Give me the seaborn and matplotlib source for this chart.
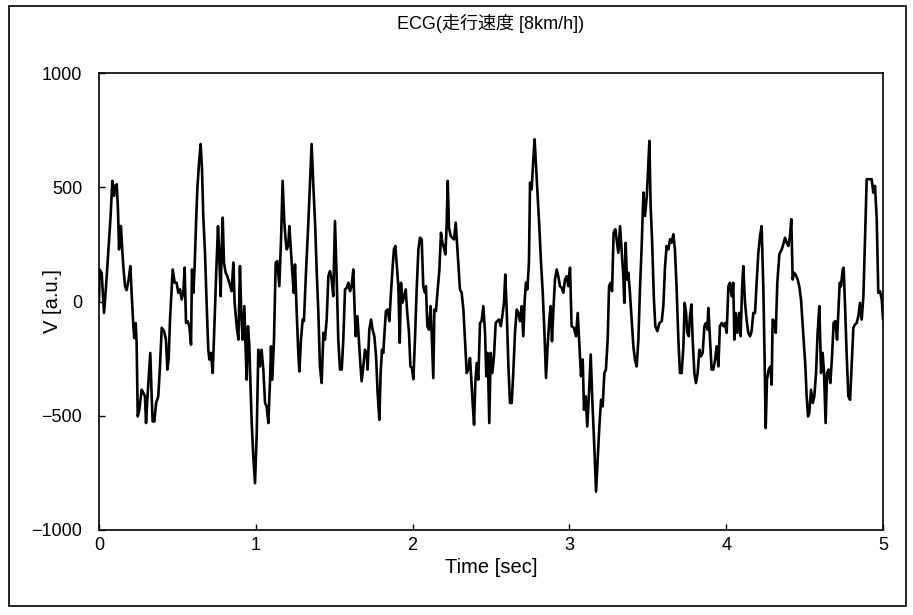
import numpy as np
import pandas as pd
import matplotlib
matplotlib.use("Agg")
import matplotlib.pyplot as plt
from matplotlib.patches import Rectangle
import seaborn as sns

# ---- data (time in s, voltage in a.u.) ----
t_sec0 = [0.000, 0.004, 0.017, 0.032, 0.045, 0.060, 0.074, 0.085, 0.096, 0.102, 0.113, 0.121, 0.128, 0.134,
          0.140, 0.147, 0.155, 0.166, 0.176, 0.189, 0.200, 0.208, 0.219, 0.225, 0.234, 0.240, 0.247, 0.257,
          0.272, 0.283, 0.293, 0.300, 0.308, 0.319, 0.327, 0.336, 0.342, 0.353, 0.364, 0.378, 0.389, 0.400,
          0.415, 0.427, 0.436, 0.444, 0.453, 0.463, 0.470, 0.483, 0.495, 0.506, 0.517, 0.527, 0.538, 0.546,
          0.555, 0.565, 0.576, 0.587, 0.593, 0.602, 0.610, 0.619, 0.627, 0.638, 0.648, 0.657, 0.665, 0.676,
          0.687, 0.697, 0.704, 0.714, 0.725, 0.733, 0.746, 0.759, 0.767, 0.776, 0.782, 0.789, 0.797, 0.808,
          0.818, 0.831, 0.846, 0.857, 0.865, 0.878, 0.889, 0.899, 0.908, 0.916, 0.927, 0.933, 0.942, 0.950,
          0.959, 0.965, 0.974, 0.984]
v_sec0 = [0, 140, 125, -50, 67, 228, 374, 528, 462, 506, 513, 403, 228, 330,
          330, 243, 155, 67, 50, 96, 155, 38, -108, -160, -94, -181, -503, -474,
          -386, -400, -415, -532, -430, -313, -225, -415, -525, -525, -445, -415, -284, -115,
          -130, -167, -298, -254, -79, 53, 140, 82, 82, 38, 53, 9, 38, 148,
          -94, -86, -108, -189, 140, 38, 155, 345, 491, 608, 689, 579, 374, 213,
          -20, -211, -254, -225, -313, -167, 96, 330, 199, 23, 228, 367, 170, 126,
          111, 82, 45, 170, -6, -108, -167, 155, -64, -167, -20, -167, -342, -108,
          -196, -342, -532, -678]

t_sec1 = [0.995, 1.006, 1.016, 1.027, 1.037, 1.048, 1.059, 1.069, 1.080, 1.091, 1.097, 1.105, 1.116, 1.127,
          1.137, 1.150, 1.161, 1.171, 1.182, 1.190, 1.197, 1.207, 1.214, 1.222, 1.233, 1.242, 1.250, 1.261,
          1.271, 1.278, 1.288, 1.299, 1.307, 1.320, 1.335, 1.346, 1.356, 1.367, 1.378, 1.388, 1.399, 1.409,
          1.420, 1.431, 1.441, 1.452, 1.463, 1.473, 1.484, 1.494, 1.505, 1.516, 1.526, 1.537, 1.548, 1.558,
          1.569, 1.580, 1.590, 1.601, 1.611, 1.622, 1.628, 1.637, 1.648, 1.656, 1.665, 1.675, 1.686, 1.696,
          1.707, 1.713, 1.724, 1.735, 1.745, 1.756, 1.767, 1.777, 1.788, 1.796, 1.805, 1.813, 1.822, 1.830,
          1.841, 1.852, 1.862, 1.873, 1.881, 1.890, 1.898, 1.909, 1.918, 1.926, 1.935, 1.945, 1.956, 1.966,
          1.977, 1.986, 1.996]
v_sec1 = [-795, -576, -211, -284, -211, -298, -444, -459, -532, -342, -196, -342, -167, 170,
          177, 67, 272, 528, 345, 272, 228, 243, 330, 243, 126, 38, 162, -50,
          -225, -306, -167, -79, -86, 126, 345, 520, 689, 506, 345, 140, -50, -284,
          -357, -137, -167, -79, 111, 133, 96, 23, 352, 96, -167, -298, -298, -167,
          53, 60, 82, 45, 67, 140, 9, -152, -64, -152, -254, -349, -284, -211,
          -225, -298, -123, -79, -123, -152, -240, -400, -518, -313, -211, -225, -123, -42,
          -35, -86, 38, 155, 228, 243, 170, 67, -181, 82, -6, 23, 53, -50,
          -137, -284, -291]

t_sec2 = [2.005, 2.015, 2.026, 2.037, 2.047, 2.058, 2.068, 2.079, 2.085, 2.094, 2.105, 2.115, 2.122, 2.132,
          2.139, 2.149, 2.160, 2.171, 2.181, 2.190, 2.200, 2.209, 2.217, 2.224, 2.232, 2.243, 2.253, 2.264,
          2.275, 2.283, 2.294, 2.302, 2.313, 2.324, 2.334, 2.345, 2.355, 2.366, 2.372, 2.383, 2.392, 2.400,
          2.409, 2.419, 2.430, 2.440, 2.451, 2.462, 2.470, 2.479, 2.489, 2.498, 2.508, 2.519, 2.530, 2.540,
          2.551, 2.562, 2.572, 2.583, 2.591, 2.600, 2.611, 2.621, 2.632, 2.642, 2.653, 2.664, 2.674, 2.685,
          2.696, 2.706, 2.715, 2.723, 2.732, 2.742, 2.749, 2.759, 2.770, 2.778, 2.787, 2.797, 2.808, 2.819,
          2.830, 2.840, 2.851, 2.861, 2.872, 2.881, 2.889, 2.898, 2.908, 2.919, 2.929, 2.940, 2.951, 2.961,
          2.972, 2.983, 2.993]
v_sec2 = [-340, -167, 53, 228, 279, 272, 67, 38, 67, -108, -123, -20, -152, -335,
          -35, -42, 53, 140, 301, 257, 235, 206, 330, 528, 323, 287, 279, 272,
          345, 257, 140, 53, 38, -35, -167, -313, -298, -247, -313, -444, -539, -357,
          -269, -342, -94, -86, -20, -137, -327, -225, -532, -225, -313, -240, -94, -86,
          -79, -108, -64, -6, 118, -35, -284, -444, -444, -313, -137, -35, -50, -86,
          -20, -152, 9, 82, 53, 170, 520, 491, 623, 710, 594, 462, 330, 170,
          38, -123, -335, -196, -79, -20, -174, -35, 96, 140, 111, 67, 60, 38,
          96, 111, 67]

t_sec3 = [3.004, 3.014, 3.029, 3.042, 3.053, 3.063, 3.074, 3.085, 3.093, 3.104, 3.114, 3.125, 3.136, 3.146,
          3.157, 3.170, 3.180, 3.191, 3.202, 3.212, 3.223, 3.233, 3.244, 3.253, 3.263, 3.272, 3.282, 3.293,
          3.301, 3.312, 3.323, 3.333, 3.344, 3.350, 3.359, 3.367, 3.376, 3.386, 3.397, 3.408, 3.418, 3.429,
          3.440, 3.450, 3.461, 3.472, 3.482, 3.493, 3.501, 3.510, 3.518, 3.527, 3.539, 3.548, 3.561, 3.574,
          3.589, 3.599, 3.610, 3.620, 3.631, 3.642, 3.652, 3.663, 3.673, 3.684, 3.695, 3.705, 3.716, 3.727,
          3.735, 3.744, 3.752, 3.761, 3.769, 3.778, 3.786, 3.797, 3.807, 3.818, 3.829, 3.839, 3.850, 3.861,
          3.871, 3.880, 3.886, 3.897, 3.907, 3.918, 3.929, 3.939, 3.950, 3.960, 3.971, 3.982, 3.992]
v_sec3 = [148, -108, -115, -152, -50, -181, -327, -254, -474, -415, -547, -400, -232, -430,
          -605, -832, -693, -547, -430, -459, -313, -298, -167, 67, 82, 45, 301, 316,
          272, 213, 330, 228, 111, -6, 257, 96, 126, 38, -79, -196, -254, -284,
          -167, 53, 243, 477, 374, 455, 564, 703, 418, 272, 9, -108, -130, -94,
          -86, -20, 155, 243, 228, 272, 257, 294, 228, 53, -167, -313, -313, -196,
          -6, -50, -137, -152, -64, -13, -167, -313, -357, -313, -211, -240, -225, -108,
          -94, -123, -28, -167, -298, -298, -254, -196, -284, -108, -94, -108, -94]

t_sec4 = [4.003, 4.014, 4.024, 4.035, 4.045, 4.052, 4.060, 4.071, 4.082, 4.092, 4.101, 4.109, 4.120, 4.131,
          4.141, 4.152, 4.162, 4.173, 4.184, 4.194, 4.205, 4.216, 4.226, 4.237, 4.245, 4.252, 4.260, 4.271,
          4.282, 4.290, 4.296, 4.305, 4.316, 4.326, 4.339, 4.354, 4.364, 4.375, 4.386, 4.396, 4.407, 4.415,
          4.424, 4.432, 4.443, 4.456, 4.466, 4.477, 4.488, 4.496, 4.505, 4.513, 4.522, 4.530, 4.541, 4.552,
          4.562, 4.573, 4.583, 4.594, 4.605, 4.615, 4.624, 4.634, 4.643, 4.653, 4.664, 4.675, 4.685, 4.696,
          4.707, 4.715, 4.724, 4.732, 4.743, 4.749, 4.758, 4.768, 4.779, 4.790, 4.800, 4.811, 4.821, 4.832,
          4.843, 4.853, 4.864, 4.875, 4.885, 4.896, 4.928, 4.938, 4.949, 4.960, 4.970, 4.981, 4.992, 5.000]
v_sec4 = [-137, 67, 82, 23, 82, -167, -50, -137, -50, -152, 53, 155, -6, -86,
          -137, -152, -130, -50, -50, 82, 213, 287, 330, 53, -254, -554, -342, -298,
          -284, -364, -79, -86, -137, 82, 206, 228, 250, 279, 257, 243, 287, 360,
          96, 126, 118, 96, 67, 9, -108, -196, -284, -415, -503, -488, -386, -444,
          -415, -313, -137, -20, -313, -225, -313, -532, -313, -298, -357, -240, -94, -86,
          -167, -50, 82, 67, 140, 148, -20, -225, -415, -430, -284, -115, -101, -94,
          -64, -6, -79, 23, 272, 535, 535, 477, 506, 360, 38, 45, 9, -79]

x_ticks = [0, 1, 2, 3, 4, 5]
y_ticks = [-1000, -500, 0, 500, 1000]
title_text = "ECG(走行速度 [8km/h])"
x_label = "Time [sec]"
y_label = "V [a.u.]"

df = pd.DataFrame({
    "time": t_sec0 + t_sec1 + t_sec2 + t_sec3 + t_sec4,
    "V": v_sec0 + v_sec1 + v_sec2 + v_sec3 + v_sec4,
})

sns.set_theme(style="white")
plt.rcParams["font.family"] = ["Liberation Sans", "Noto Sans CJK JP", "DejaVu Sans"]

W, H = 913, 615
fig = plt.figure(figsize=(W / 100, H / 100), dpi=100)
fig.patch.set_facecolor("white")
ax = fig.add_axes([99 / W, 1 - 530 / H, (883 - 99) / W, (530 - 73) / H])

sns.lineplot(data=df, x="time", y="V", ax=ax, color="black", linewidth=1.9,
             sort=False, estimator=None)

ax.set_xlim(0, 5)
ax.set_ylim(-1000, 1000)
ax.set_xticks(x_ticks)
ax.set_yticks(y_ticks)
ax.set_xticklabels([str(v) for v in x_ticks])
ax.set_yticklabels([str(v).replace("-", "\u2212") for v in y_ticks])
ax.tick_params(axis="both", direction="in", length=4, width=1, colors="black",
               labelsize=13, left=True, bottom=True, right=False, top=False)
ax.tick_params(axis="y", pad=12)
ax.tick_params(axis="x", pad=5)
for s in ax.spines.values():
    s.set_visible(True)
    s.set_color("black")
    s.set_linewidth(1.2)

ax.set_xlabel(x_label, fontsize=14.5, color="black", labelpad=3)
ax.set_ylabel(y_label, fontsize=14.5, color="black")
ax.yaxis.set_label_coords((62 - 99) / (883 - 99), 0.5)
ax.set_title(title_text, fontsize=13, color="black", pad=32)

# outer chart-area border
fig.patches.append(Rectangle((9 / W, 1 - 606 / H), (906 - 9) / W, (606 - 6) / H,
                             transform=fig.transFigure, fill=False,
                             edgecolor="black", linewidth=1.2))

fig.savefig("out.png", dpi=100, facecolor="white")
